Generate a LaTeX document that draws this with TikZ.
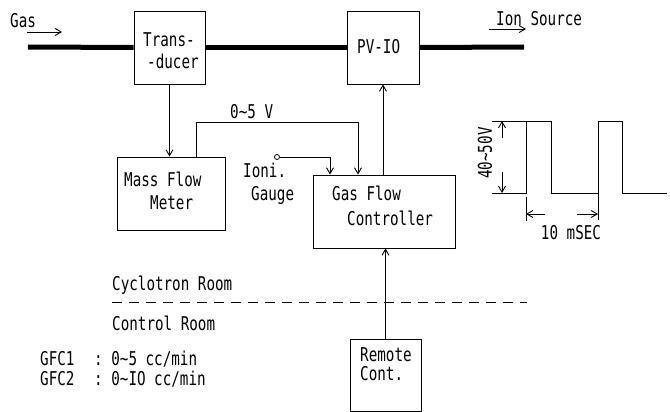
\documentclass[tikz,border=0pt]{standalone}
\usepackage{fontspec}
\setmonofont[FakeStretch=0.75]{DejaVu Sans Mono}
\usetikzlibrary{arrows.meta}
\newcommand{\aprox}{\textasciitilde}
\tikzset{
  caja/.style={draw, line width=0.9pt, inner sep=0pt},
  texto/.style={align=left, inner sep=0pt, anchor=west, font=\ttfamily\fontsize{19}{22}\selectfont},
  flecha/.style={-{Straight Barb[length=6pt,width=7pt]}, line width=0.9pt},
  tubo/.style={line width=5pt},
  senal/.style={line width=0.9pt},
}

\begin{document}
\begin{tikzpicture}[x=1pt, y=-1pt]
  \useasboundingbox (0,0) rectangle (670,412);
  % cajas
  \node[caja, minimum width=71pt, minimum height=73pt] (trans) at (169.5,47.5) {};
  \node[caja, minimum width=72pt, minimum height=73pt] (pv) at (383,47.5) {};
  \node[caja, minimum width=108pt, minimum height=73pt] (mfm) at (171,193.5) {};
  \node[caja, minimum width=142pt, minimum height=73pt] (gfc) at (384,211.5) {};
  \node[caja, minimum width=71pt, minimum height=72pt] (remoto) at (385.5,375) {};
  \node[circle, draw, line width=0.8pt, inner sep=0pt, minimum size=5pt] (ioni) at (277,157) {};
  % textos de las cajas
  \node[texto] (transtxt) at (143,51) {Trans-\\\hspace*{4pt}-ducer};
  \node[texto] (pvtxt) at (357,47) {PV-IO};
  \node[texto, font=\ttfamily\fontsize{19}{23}\selectfont] (mfmtxt) at (124,190.5) {Mass Flow\\\hspace*{26pt}Meter};
  \node[texto, font=\ttfamily\fontsize{19}{25}\selectfont] (gfctxt) at (332,205.5) {Gas Flow\\\hspace*{15pt}Controller};
  \node[texto, font=\ttfamily\fontsize{19}{19}\selectfont] (remtxt) at (360,364) {Remote\\Cont.};
  \node[texto, font=\ttfamily\fontsize{19}{23}\selectfont] (gaugetxt) at (243,183.5) {Ioni.\\\hspace*{8pt}Gauge};
  % otros textos
  \node[texto] (gastxt) at (10,21) {Gas};
  \node[texto] (iontxt) at (496,19) {Ion Source};
  \node[texto] (voltxt) at (230,112) {0\aprox5 V};
  \node[texto] (ciclotxt) at (112,285) {Cyclotron Room};
  \node[texto] (controltxt) at (112,323) {Control Room};
  \node[texto] (gfc1) at (40,359) {GFC1};
  \node[texto] (rango1) at (94,359) {: 0\aprox5 cc/min};
  \node[texto] (gfc2) at (40,379) {GFC2};
  \node[texto] (rango2) at (94,379) {: 0\aprox IO cc/min};
  \node[texto, anchor=center, rotate=90] (amplitud) at (485,153) {40\aprox50V};
  \node[texto, anchor=center] (periodo) at (571,233) {10 mSEC};
  % tubo de gas
  \coordinate (entrada) at (28,47);
  \coordinate (salida) at (524,47);
  \draw[tubo] (entrada) -- (trans.west);
  \draw[tubo] (trans.east) -- (pv.west);
  \draw[tubo] (pv.east) -- (salida);
  \draw[flecha] (27,32) -- (62,32);
  \draw[flecha] (489,29) -- (526,29);
  % conexiones
  \coordinate (v0) at (358,122);
  \draw[flecha] (trans.south) -- (trans.south |- mfm.north);
  \draw[flecha] ([xshift=25pt]mfm.north) |- (v0) -- (v0 |- gfc.north);
  \draw[flecha] (ioni.east) -| ([xshift=-54pt]gfc.north);
  \draw[flecha] (gfc.north -| pv.south) -- (pv.south);
  \draw[flecha] (remoto.north) -- (remoto.north |- gfc.south);
  \draw[line width=0.9pt, dash pattern=on 10pt off 7pt] (112,302) -- (527,302);
  % senal
  \draw[senal] (492,193) -- (526,193) -- (526,121) -- (551,121) -- (551,193)
    -- (598,193) -- (598,121) -- (622,121) -- (622,193) -- (667,193);
  \draw[senal] (492,121) -- (526,121);
  \draw[flecha] (502,138) -- (502,121);
  \draw[flecha] (502,172) -- (502,193);
  \draw[senal] (526,197) -- (526,221);
  \draw[senal] (598,193) -- (598,220);
  \draw[flecha] (545,214) -- (526,214);
  \draw[flecha] (577,214) -- (598,214);
\end{tikzpicture}
\end{document}
